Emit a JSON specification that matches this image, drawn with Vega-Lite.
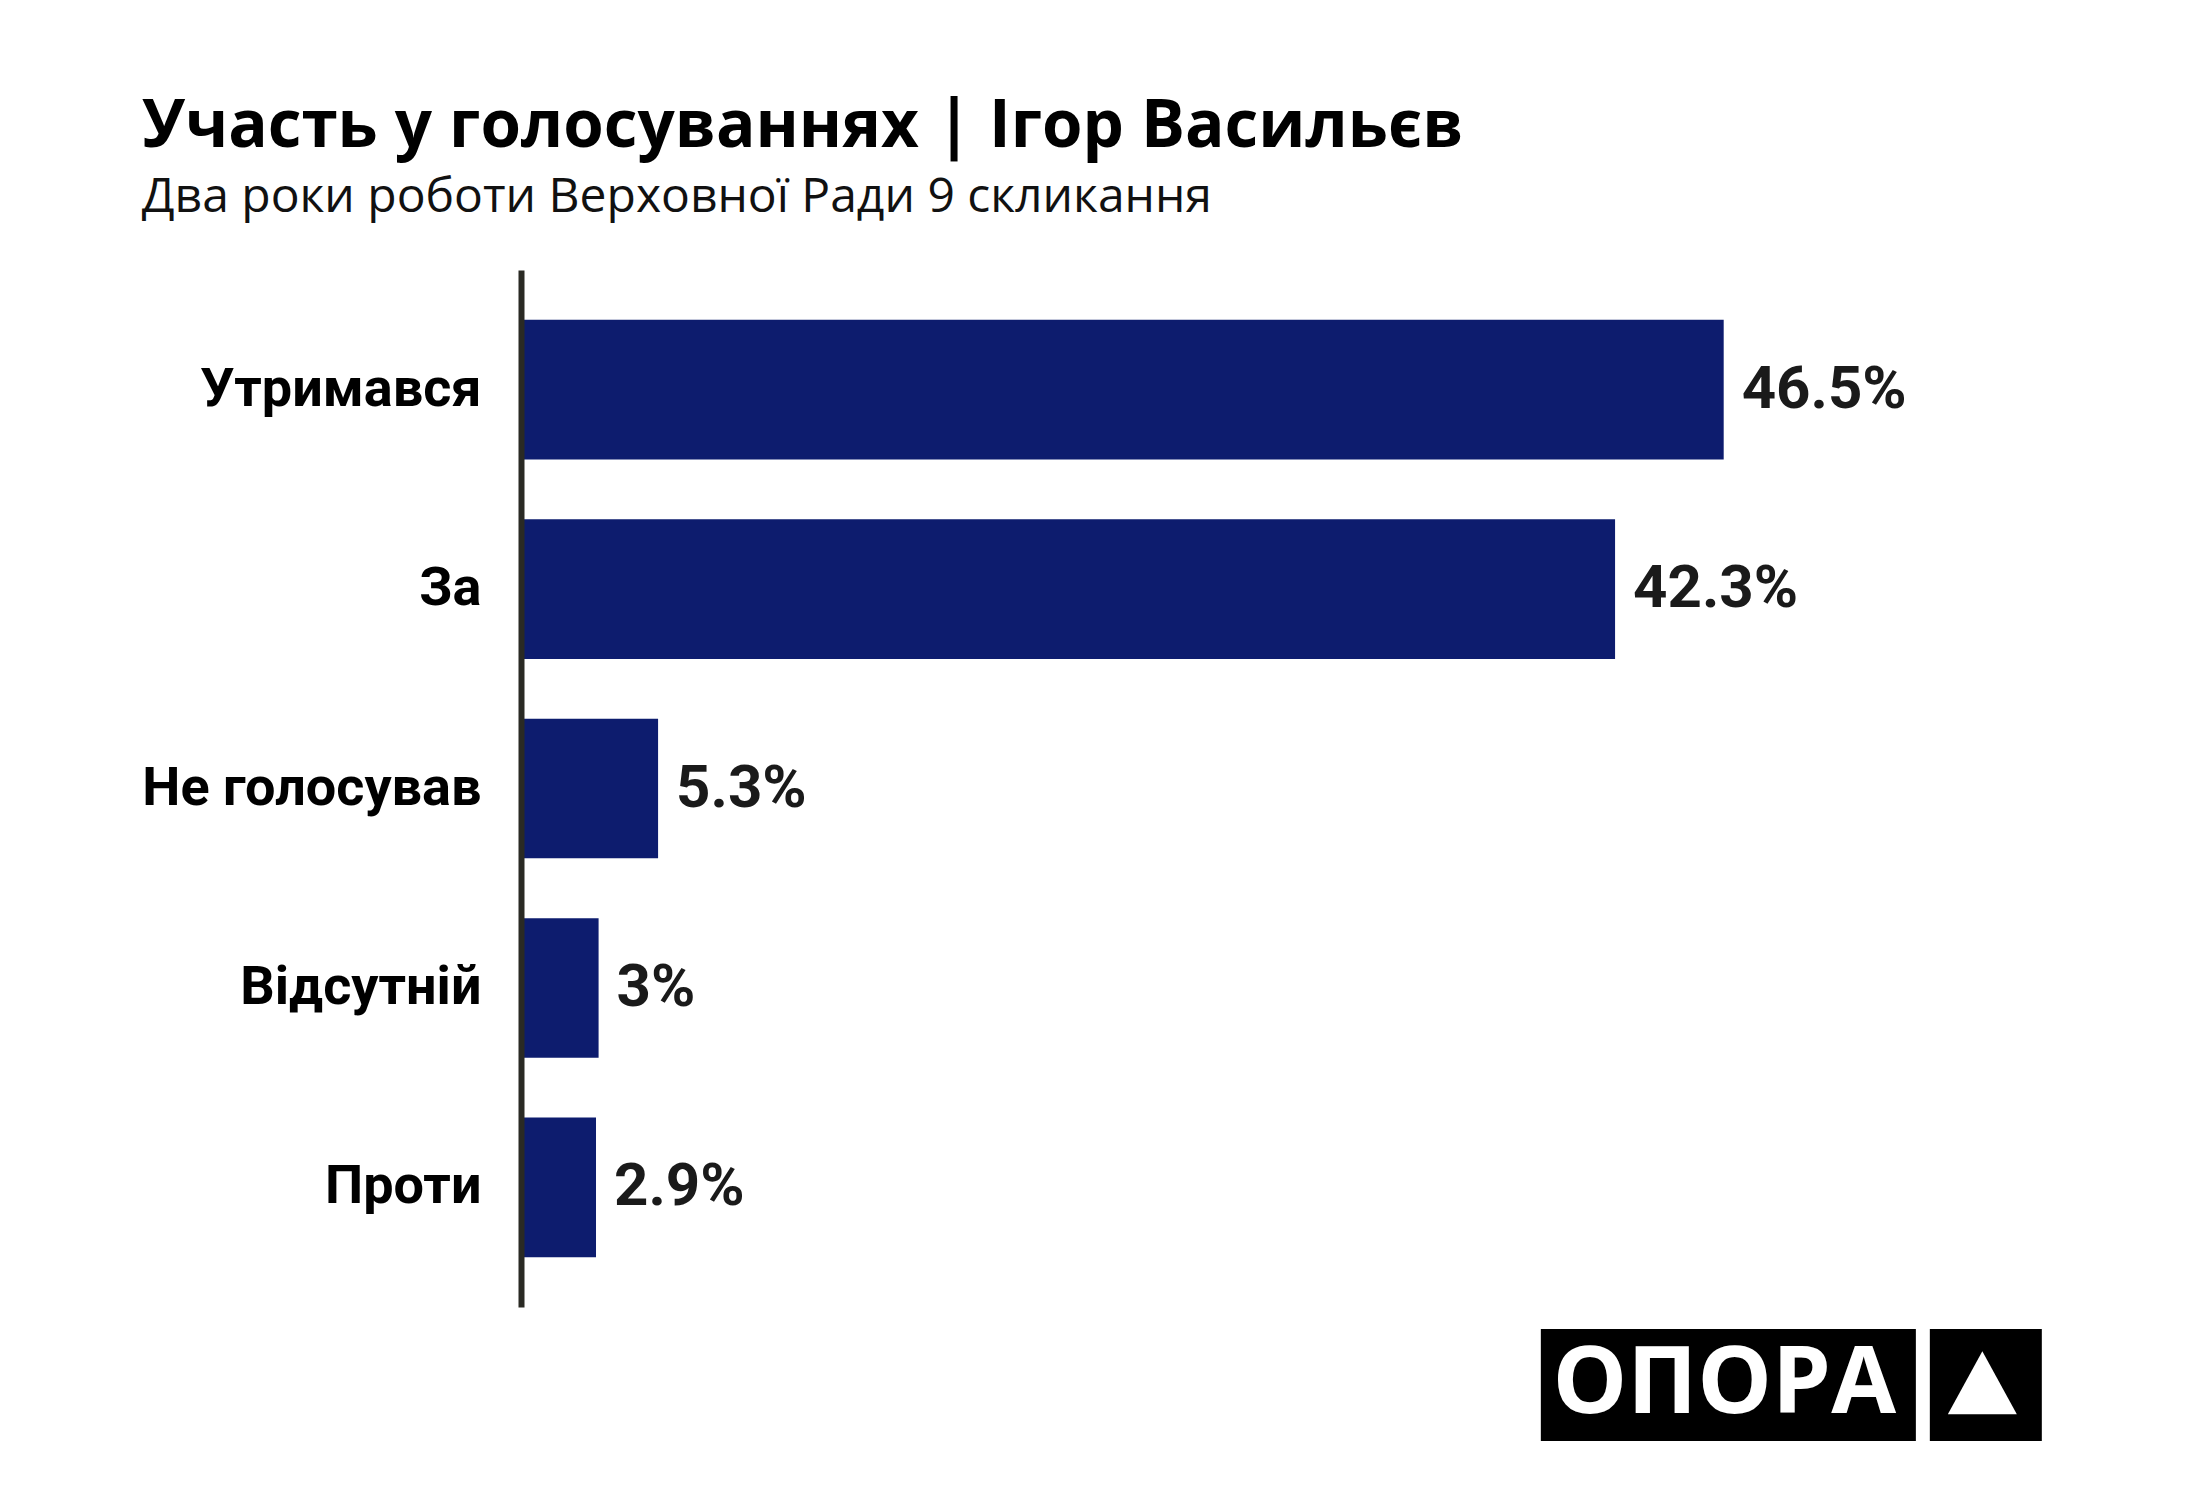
{
  "$schema": "https://vega.github.io/schema/vega-lite/v6.json",
  "background": "white",
  "padding": {"left": 141, "top": 94, "right": 152, "bottom": 54},
  "title": {
    "text": "Участь у голосуваннях | Ігор Васильєв",
    "subtitle": "Два роки роботи Верховної Ради 9 скликання",
    "anchor": "start",
    "font": "Open Sans",
    "fontSize": 65.5,
    "fontWeight": "bold",
    "color": "#000000",
    "subtitleFont": "Open Sans",
    "subtitleFontSize": 48,
    "subtitleFontWeight": "normal",
    "subtitleColor": "#111111",
    "subtitlePadding": 14,
    "offset": 48
  },
  "datasets": {
    "votes": [
      {"vote": "Утримався", "share": 0.465},
      {"vote": "За", "share": 0.423},
      {"vote": "Не голосував", "share": 0.053},
      {"vote": "Відсутній", "share": 0.03},
      {"vote": "Проти", "share": 0.029}
    ],
    "logo_boxes": [
      {"part": "name", "x1": 0.3943, "x2": 0.5393},
      {"part": "sign", "x1": 0.5447, "x2": 0.588}
    ],
    "logo_text": [
      {"label": "ОПОРА", "xc": 0.4652, "yc": 0.5}
    ],
    "logo_sign": [
      {"xc": 0.565, "yc": 0.52}
    ]
  },
  "spacing": 22,
  "resolve": {"scale": {"x": "shared"}},
  "vconcat": [
    {
      "width": 1526,
      "height": 1037,
      "data": {"name": "votes"},
      "encoding": {
        "y": {
          "field": "vote",
          "type": "nominal",
          "sort": ["Утримався", "За", "Не голосував", "Відсутній", "Проти"],
          "scale": {"paddingInner": 0.3, "paddingOuter": 0.25},
          "axis": {
            "title": null,
            "ticks": false,
            "grid": false,
            "domainColor": "#2a2a24",
            "domainWidth": 6,
            "labelFont": "Roboto",
            "labelFontSize": 54,
            "labelFontWeight": "bold",
            "labelColor": "#000000",
            "labelPadding": 40,
            "labelLimit": 0,
            "zindex": 1
          }
        },
        "x": {
          "field": "share",
          "type": "quantitative",
          "scale": {"domain": [0, 0.59], "nice": false, "zero": true},
          "axis": null
        }
      },
      "layer": [
        {"mark": {"type": "bar", "color": "#0d1c6e"}},
        {
          "mark": {
            "type": "text",
            "align": "left",
            "baseline": "middle",
            "dx": 18,
            "font": "Roboto",
            "fontSize": 60,
            "fontWeight": "bold",
            "color": "#1a1a1a"
          },
          "encoding": {
            "text": {"field": "share", "type": "quantitative", "format": ".1~%"}
          }
        }
      ]
    },
    {
      "width": 1526,
      "height": 112,
      "layer": [
        {
          "data": {"name": "logo_boxes"},
          "mark": {"type": "rect", "color": "#000000"},
          "encoding": {
            "x": {"field": "x1", "type": "quantitative", "axis": null},
            "x2": {"field": "x2"}
          }
        },
        {
          "data": {"name": "logo_text"},
          "mark": {
            "type": "text",
            "align": "center",
            "baseline": "middle",
            "font": "Open Sans",
            "fontSize": 94,
            "fontWeight": "bold",
            "color": "#ffffff"
          },
          "encoding": {
            "x": {"field": "xc", "type": "quantitative", "axis": null},
            "y": {"field": "yc", "type": "quantitative", "axis": null, "scale": {"domain": [0, 1], "nice": false}},
            "text": {"field": "label", "type": "nominal"}
          }
        },
        {
          "data": {"name": "logo_sign"},
          "mark": {
            "type": "point",
            "shape": "M0,-0.913L1,0.913L-1,0.913Z",
            "filled": true,
            "color": "#ffffff",
            "opacity": 1,
            "size": 4761,
            "strokeWidth": 0
          },
          "encoding": {
            "x": {"field": "xc", "type": "quantitative", "axis": null},
            "y": {"field": "yc", "type": "quantitative", "axis": null, "scale": {"domain": [0, 1], "nice": false}}
          }
        }
      ]
    }
  ],
  "config": {
    "view": {"stroke": null}
  }
}
